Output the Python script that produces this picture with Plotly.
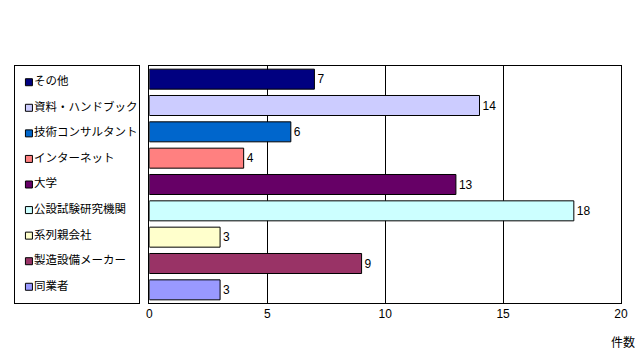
import plotly.graph_objects as go

categories = ["その他", "資料・ハンドブック", "技術コンサルタント", "インターネット", "大学",
              "公設試験研究機関", "系列親会社", "製造設備メーカー", "同業者"]
values = [7, 14, 6, 4, 13, 18, 3, 9, 3]
colors = ["#000080", "#CCCCFF", "#0066CC", "#FF8080", "#660066",
          "#CCFFFF", "#FFFFCC", "#993366", "#9999FF"]
x_ticks = [0, 5, 10, 15, 20]
x_title = "件数"

FONT = "Noto Sans CJK JP"
OFF = 8  # page body margin
W, H = 643, 359
PAGE_LEG_LEFT, PAGE_LEG_RIGHT = 12, 137
PAGE_PLOT_LEFT, PAGE_PLOT_RIGHT = 147, 621
PAGE_TOP, PAGE_BOTTOM = 66, 303

ML = PAGE_LEG_LEFT - OFF
MT = PAGE_TOP - OFF
MR = W - (PAGE_PLOT_RIGHT - OFF)
MB = H - (PAGE_BOTTOM - OFF)
PW = W - ML - MR
PH = H - MT - MB

fig = go.Figure()
for cat, val, col in zip(categories, values, colors):
    fig.add_trace(go.Bar(
        x=[val], y=[cat], orientation="h", name=cat, showlegend=False,
        marker=dict(color=col, line=dict(color="black", width=1)),
        text=[str(val)], textposition="outside",
        textfont=dict(family="Liberation Sans", size=12, color="black"),
        cliponaxis=False, xaxis="x", yaxis="y",
    ))

LEG_W = PAGE_LEG_RIGHT - PAGE_LEG_LEFT
fig.add_trace(go.Scatter(
    x=[14] * len(categories), y=categories, mode="markers",
    marker=dict(symbol="square", size=7, color=colors, line=dict(color="black", width=1)),
    showlegend=False, hoverinfo="skip", xaxis="x2", yaxis="y2", cliponaxis=False,
))
fig.add_trace(go.Scatter(
    x=[19] * len(categories), y=categories, mode="text", text=categories,
    textposition="middle right",
    textfont=dict(family=FONT, size=11.5, color="black"),
    showlegend=False, hoverinfo="skip", xaxis="x2", yaxis="y2", cliponaxis=False,
))

fig.update_layout(
    width=W, height=H,
    margin=dict(l=ML, r=MR, t=MT, b=MB),
    paper_bgcolor="white", plot_bgcolor="white",
    barmode="overlay", bargap=0.24,
    font=dict(family=FONT, size=12, color="black"),
    showlegend=False,
    xaxis=dict(
        domain=[(PAGE_PLOT_LEFT - PAGE_LEG_LEFT) / PW, 1],
        range=[0, 20], tickvals=x_ticks, ticktext=[str(t) for t in x_ticks],
        showgrid=True, gridcolor="black", gridwidth=1,
        showline=True, linecolor="black", linewidth=1, mirror=True,
        zeroline=False, ticks="", ticklen=0,
        tickfont=dict(family="Liberation Sans", size=12, color="black"),
        anchor="y", fixedrange=True,
    ),
    yaxis=dict(
        categoryorder="array", categoryarray=categories, autorange="reversed",
        showticklabels=False, showgrid=False, ticks="",
        showline=True, linecolor="black", linewidth=1, mirror=True,
        anchor="x", fixedrange=True,
    ),
    xaxis2=dict(
        domain=[0, LEG_W / PW], range=[0, LEG_W],
        showticklabels=False, showgrid=False, zeroline=False, ticks="",
        showline=True, linecolor="black", linewidth=1, mirror=True,
        anchor="y2", fixedrange=True,
    ),
    yaxis2=dict(
        categoryorder="array", categoryarray=categories, autorange="reversed",
        showticklabels=False, showgrid=False, zeroline=False, ticks="",
        showline=True, linecolor="black", linewidth=1, mirror=True,
        anchor="x2", fixedrange=True,
    ),
    annotations=[dict(
        text=x_title, xref="paper", yref="paper",
        x=(623 - PAGE_LEG_LEFT) / PW, y=(PAGE_BOTTOM - 341) / PH,
        xanchor="center", yanchor="middle", showarrow=False,
        font=dict(family=FONT, size=12, color="black"),
    )],
)

fig.write_html("out.html")
